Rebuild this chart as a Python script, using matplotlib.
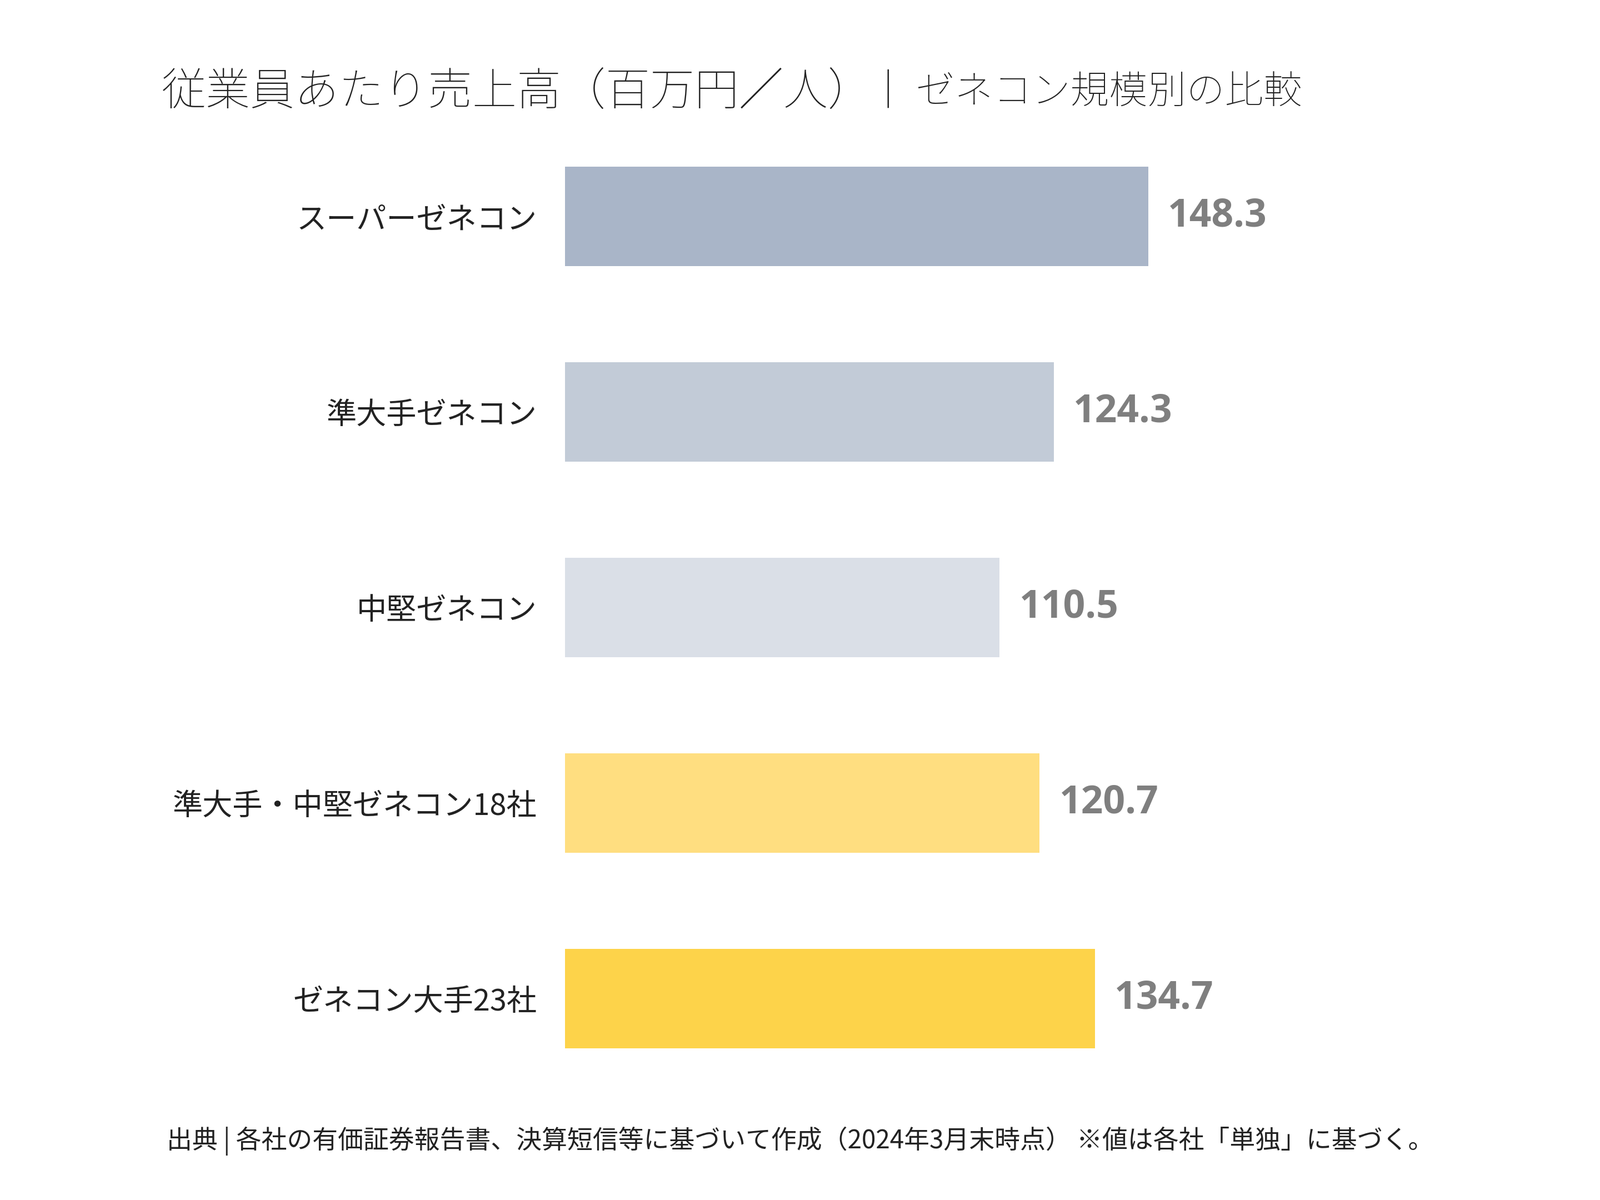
import matplotlib.pyplot as plt

categories = ["スーパーゼネコン", "準大手ゼネコン", "中堅ゼネコン", "準大手・中堅ゼネコン18社", "ゼネコン大手23社"]
values = [148.3, 124.3, 110.5, 120.7, 134.7]
colors = ["#A9B5C8", "#C2CBD7", "#DADFE7", "#FFDE80", "#FDD34A"]

jp = "Noto Sans CJK JP"

fig = plt.figure(figsize=(14.4, 10.8), dpi=200)
ax = fig.add_axes([0.353, 0.0865, 0.6, 0.8145])

ax.barh(range(len(values)), values, height=0.51, color=colors)
ax.set_ylim(len(values) - 0.5, -0.5)
ax.set_xlim(0, 244)
ax.set_yticks(range(len(values)))
ax.set_yticklabels(categories, fontfamily=jp, fontsize=19.5, color="#222222")
ax.tick_params(axis="y", length=0, pad=18)
ax.set_xticks([])
for s in ax.spines.values():
    s.set_visible(False)

for i, v in enumerate(values):
    ax.text(v + 5, i, f"{v:.1f}", va="center", ha="left",
            fontsize=25, fontweight="bold", color="#7F7F7F", fontfamily="Open Sans")

fig.text(0.101, 0.923, "従業員あたり売上高（百万円／人）", fontfamily=jp, fontsize=28.8,
         color="#222222", va="center", fontweight="light")
fig.text(0.543, 0.923, "｜ ゼネコン規模別の比較", fontfamily=jp, fontsize=25,
         color="#222222", va="center", fontweight="light")
fig.text(0.104, 0.049, "出典 | 各社の有価証券報告書、決算短信等に基づいて作成（2024年3月末時点） ※値は各社「単独」に基づく。",
         fontfamily=jp, fontsize=16.5, color="#222222", va="center")

fig.savefig("out.png", dpi=200, facecolor="white")
